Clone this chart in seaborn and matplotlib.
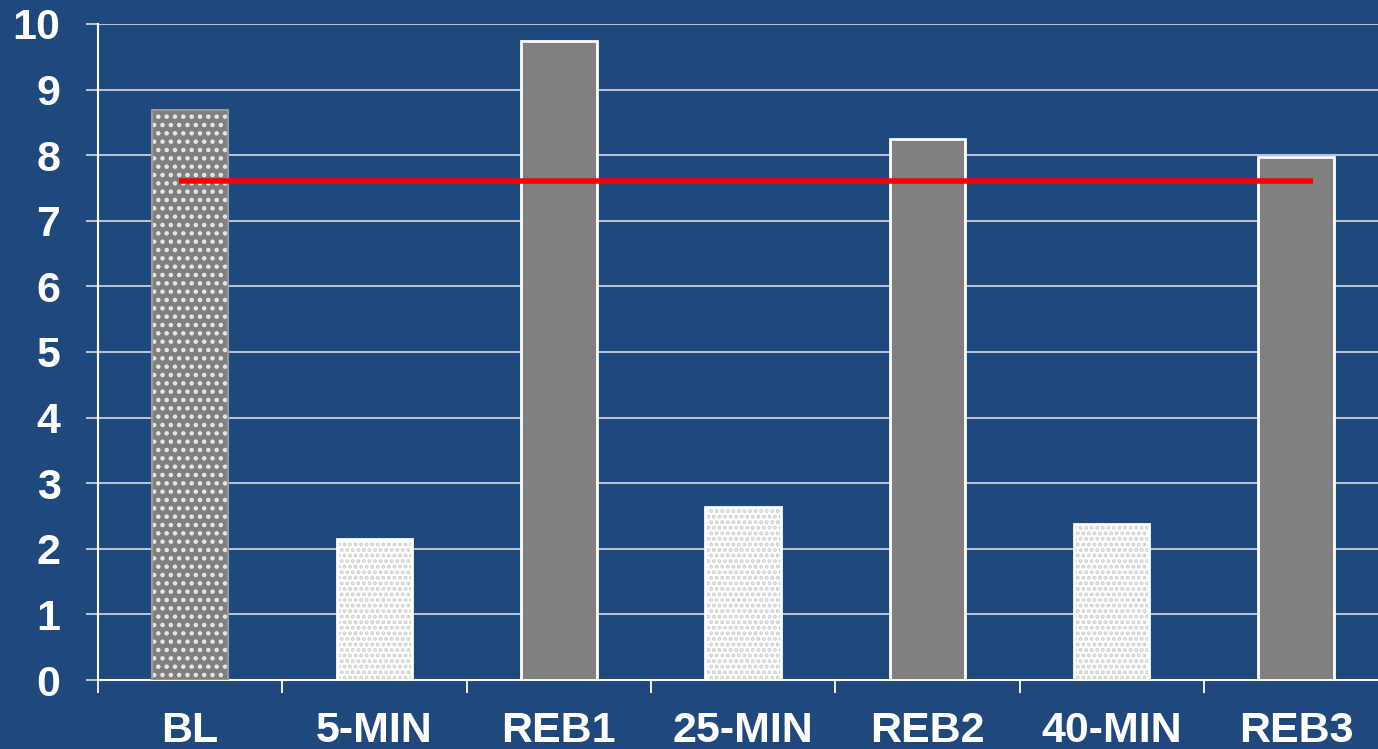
import matplotlib
matplotlib.use("Agg")
import matplotlib.pyplot as plt
import seaborn as sns
import numpy as np

categories = ["BL", "5-MIN", "REB1", "25-MIN", "REB2", "40-MIN", "REB3"]
values = [8.69, 2.15, 9.74, 2.64, 8.25, 2.38, 7.97]
baseline_mean = 7.61
yticks = list(range(0, 11))

BG = "#1F497D"
GREY = "#808080"

sns.set_theme(style="white")
plt.rcParams["font.family"] = ["Liberation Sans", "DejaVu Sans"]
plt.rcParams["hatch.linewidth"] = 2.0

fig = plt.figure(figsize=(13.78, 7.49), dpi=100)
fig.patch.set_facecolor(BG)
ax = fig.add_axes([98 / 1378, 69 / 749, 1280 / 1378, 656 / 749])
ax.set_facecolor(BG)

sns.barplot(x=categories, y=values, ax=ax, width=0.41, color=GREY, zorder=3)

# per-phase styling: baseline dotted grey, recovery periods light dotted, rebreathing solid grey
for i, bar in enumerate(ax.patches):
    if i == 0:
        bar.set_facecolor(GREY)
        bar.set_edgecolor("#e8e8e8")
        bar.set_hatch("..")
        bar.set_linewidth(0)
        # grey outline drawn separately so the hatch stays white
        ax.add_patch(plt.Rectangle(bar.get_xy(), bar.get_width(), bar.get_height(),
                                   fill=False, edgecolor="#9a9a9a", linewidth=1.5, zorder=4))
    elif categories[i].endswith("MIN"):
        bar.set_facecolor("white")
        bar.set_edgecolor("#d0d0d0")
        bar.set_hatch("...")
        bar.set_linewidth(0)
        ax.add_patch(plt.Rectangle(bar.get_xy(), bar.get_width(), bar.get_height(),
                                   fill=False, edgecolor="white", linewidth=2, zorder=4))
    else:
        bar.set_facecolor(GREY)
        bar.set_edgecolor("white")
        bar.set_linewidth(2)

ax.hlines(baseline_mean, -0.06, 6.09, color="#FF0000", linewidth=4, zorder=5)

ax.set_ylim(0, 10)
ax.set_xlim(-0.5, 6.445)
ax.set_yticks(yticks)
ax.set_yticklabels([str(t) for t in yticks])
ax.yaxis.grid(True, color="#C8D0DC", linewidth=1.3, zorder=0)
ax.set_axisbelow(True)

ax.set_xticks(np.arange(len(categories)))
ax.set_xticklabels(categories)
ax.set_xticks(np.arange(len(categories)) - 0.5, minor=True)

ax.tick_params(axis="x", which="major", length=0, pad=22, labelsize=31, labelcolor="white")
ax.tick_params(axis="x", which="minor", length=9, width=1.3, color="white", direction="out", bottom=True)
ax.tick_params(axis="y", length=9, width=1.3, color="#C8D0DC", direction="out", left=True,
               pad=18, labelsize=31, labelcolor="white")
for lab in ax.get_xticklabels() + ax.get_yticklabels():
    lab.set_fontweight("bold")

for side in ["top", "right"]:
    ax.spines[side].set_visible(False)
for side in ["left", "bottom"]:
    ax.spines[side].set_color("white")
    ax.spines[side].set_linewidth(1.5)
ax.set_xlabel("")
ax.set_ylabel("")

fig.savefig("out.png", dpi=100, facecolor=BG)
